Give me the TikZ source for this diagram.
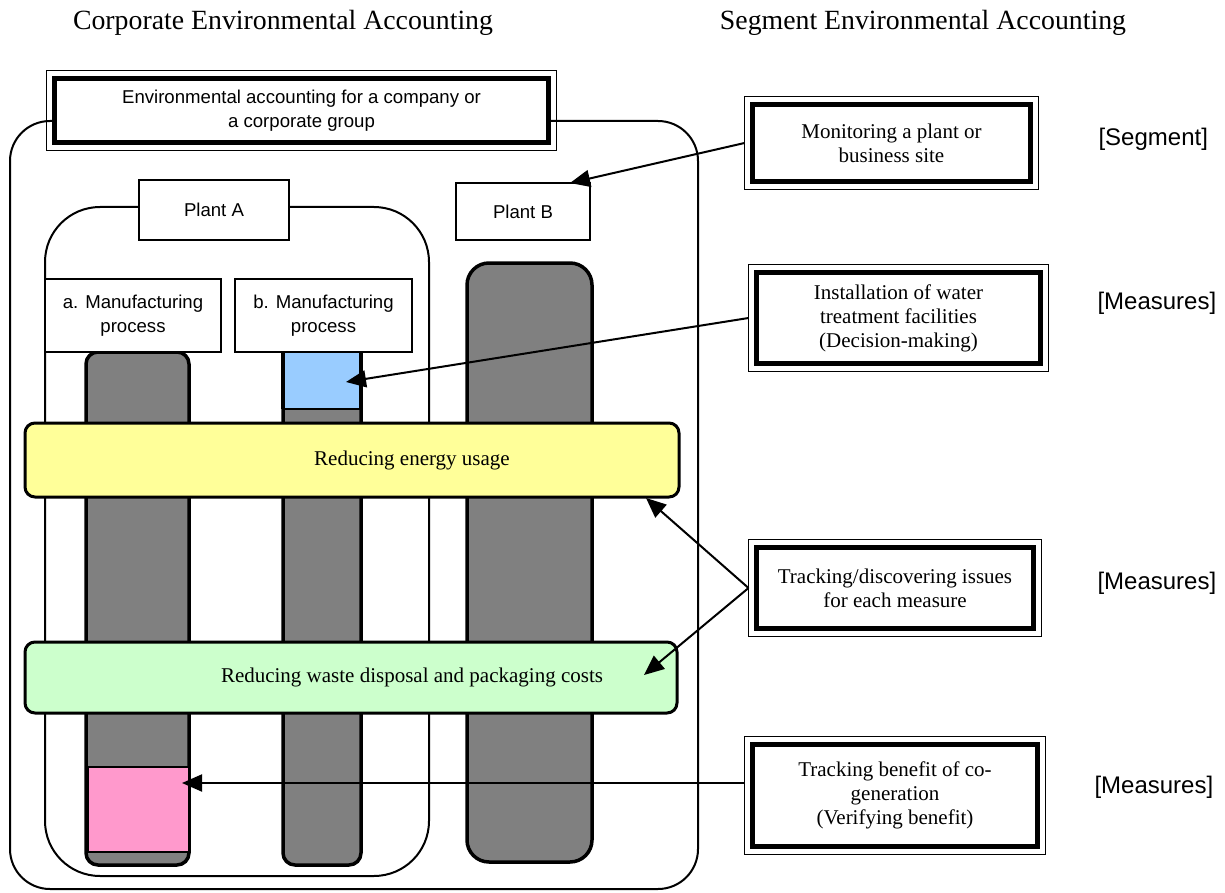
\documentclass[tikz,border=0pt]{standalone}
\usepackage{fontspec}
\setmainfont{Liberation Serif}
\newfontfamily\arialfont{Liberation Sans}
\usetikzlibrary{arrows.meta}

\definecolor{bargray}{HTML}{808080}
\definecolor{waterblue}{HTML}{99CCFF}
\definecolor{cogenpink}{HTML}{FF99CC}
\definecolor{energyyellow}{HTML}{FFFF99}
\definecolor{wastegreen}{HTML}{CCFFCC}

\tikzset{
  sanstext/.style={font=\arialfont\fontsize{18.6pt}{24.5pt}\selectfont, align=center},
  serftext/.style={font=\fontsize{21pt}{24pt}\selectfont, align=center},
  titletext/.style={font=\fontsize{27.8pt}{32pt}\selectfont},
  tagtext/.style={font=\arialfont\fontsize{24pt}{28pt}\selectfont},
  plainbox/.style={draw, line width=2pt, fill=white, inner sep=0pt, sanstext},
  framedbox/.style={draw, line width=5pt, fill=white, inner sep=0pt},
  bar/.style={draw, line width=3.5pt, fill=bargray, rounded corners=12pt},
  band/.style={draw, line width=3pt, rounded corners=10pt, inner sep=0pt},
  pointer/.style={line width=2pt, -{Triangle[length=20pt,width=17pt]}},
}

% thin outer rule around a thick-bordered box
\newcommand\outerrule[1]{%
  \draw[line width=1pt] ([shift={(-5.5pt,5.5pt)}]#1.north west) rectangle ([shift={(5.5pt,-5.5pt)}]#1.south east);}

\begin{document}
\begin{tikzpicture}[x=1pt, y=-1pt]
\useasboundingbox (0,0) rectangle (1225,893);

% column headings
\node[titletext] (corptitle) at (283,23) {Corporate Environmental Accounting};
\node[titletext] (segtitle) at (923,23) {Segment Environmental Accounting};

% company boundary
\draw[line width=2pt, rounded corners=40pt] (10,121) rectangle (698,889);
\node[framedbox, minimum width=494pt, minimum height=64pt, sanstext] (company) at (301.5,110.5)
  {Environmental accounting for a company or\\a corporate group};
\outerrule{company}

% plant A boundary
\draw[line width=2pt, rounded corners=55pt] (45,207) rectangle (429,876);

% process bars
\draw[bar] (86,352) rectangle (189,865);
\draw[line width=3.5pt, fill=bargray] (283,352) [rounded corners=12pt] -- (283,865) -- (361,865) [sharp corners] -- (361,352) -- cycle;
\draw[bar, rounded corners=22pt] (467,263) rectangle (592,862);

% highlighted segments
\node[draw, line width=1.5pt, fill=waterblue, minimum width=76pt, minimum height=57pt, inner sep=0pt] (water) at (322,380.5) {};
\draw[line width=3.5pt] (283,352) -- (283,409) (361,352) -- (361,409);
\node[draw, line width=1.5pt, fill=cogenpink, minimum width=101pt, minimum height=85pt, inner sep=0pt] (cogen) at (138.5,809.5) {};

% plant and process labels
\node[plainbox, minimum width=150pt, minimum height=60pt] (plantA) at (214,210) {Plant A};
\node[plainbox, minimum width=134pt, minimum height=57pt] (plantB) at (523,211.5) {Plant B};
\node[plainbox, minimum width=176pt, minimum height=73pt] (procA) at (133,315.5) {a. Manufacturing\\process};
\node[plainbox, minimum width=177pt, minimum height=73pt] (procB) at (323.5,315.5) {b. Manufacturing\\process};

% cross-cutting measures
\node[band, fill=energyyellow, minimum width=654pt, minimum height=74pt] (energy) at (352,460) {};
\node[serftext] (energytxt) at (412,460) {Reducing energy usage};
\node[band, fill=wastegreen, minimum width=652pt, minimum height=71pt] (waste) at (351,677.5) {};
\node[serftext] (wastetxt) at (412,677) {Reducing waste disposal and packaging costs};

% segment accounting boxes
\node[framedbox, serftext, minimum width=278pt, minimum height=77pt] (monitor) at (891.5,143) {Monitoring a plant or\\business site};
\outerrule{monitor}
\node[framedbox, serftext, minimum width=284pt, minimum height=91pt] (install) at (898.5,318) {Installation of water\\treatment facilities\\(Decision-making)};
\outerrule{install}
\node[framedbox, serftext, minimum width=277pt, minimum height=81pt] (track) at (895,588) {Tracking/discovering issues\\for each measure};
\outerrule{track}
\node[framedbox, serftext, minimum width=285pt, minimum height=102pt] (benefit) at (895,795.5) {Tracking benefit of co-\\generation\\(Verifying benefit)};
\outerrule{benefit}

% category tags
\node[tagtext, anchor=west] (tagseg) at (1095,139) {[Segment]};
\node[tagtext, anchor=west] (tagm1) at (1094,303) {[Measures]};
\node[tagtext, anchor=west] (tagm2) at (1094,583) {[Measures]};
\node[tagtext, anchor=west] (tagm3) at (1091,787) {[Measures]};

% arrow targets
\coordinate (toPlantB) at (570,183);
\coordinate (toWater) at (346,382);
\coordinate (toEnergy) at (646,498);
\coordinate (toWaste) at (644,675);
\coordinate (toCogen) at (182,783);

% connectors
\draw[pointer] ([xshift=-5.5pt]monitor.west) -- (toPlantB);
\draw[pointer] ([xshift=-5.5pt]install.west) -- (toWater);
\draw[pointer] ([xshift=-5.5pt]track.west) -- (toEnergy);
\draw[pointer] ([xshift=-5.5pt]track.west) -- (toWaste);
\draw[pointer] ([xshift=-5.5pt, yshift=12.5pt]benefit.west) -- (toCogen);
\end{tikzpicture}
\end{document}
